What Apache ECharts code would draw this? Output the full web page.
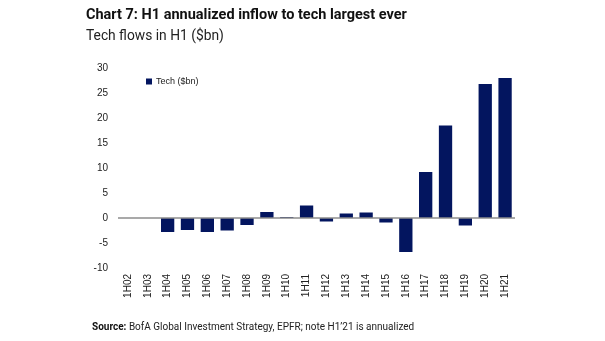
<!DOCTYPE html>
<html>
<head>
<meta charset="utf-8">
<script src="https://cdn.jsdelivr.net/npm/echarts@6/dist/echarts.min.js"></script>
<style>html,body{margin:0;padding:0;background:#fff}#c{width:605px;height:341px}</style>
</head>
<body>
<div id="c"></div>
<script>
const categories = ['1H02','1H03','1H04','1H05','1H06','1H07','1H08','1H09','1H10','1H11','1H12','1H13','1H14','1H15','1H16','1H17','1H18','1H19','1H20','1H21'];
const techFlows = [0, 0, -2.8, -2.4, -2.8, -2.5, -1.4, 1.2, 0.2, 2.5, -0.7, 0.9, 1.1, -0.9, -6.8, 9.2, 18.5, -1.5, 26.8, 28.0];
const seriesName = 'Tech ($bn)';

const TF = 'Roboto, sans-serif';
const chart = echarts.init(document.getElementById('c'));
chart.setOption({
  animation: false,
  title: [
    {
      text: 'Chart 7: H1 annualized inflow to tech largest ever',
      left: 86, top: 8, padding: 0,
      textStyle: {fontFamily: TF, fontWeight: 'bold', fontSize: 14.5, color: '#111'}
    },
    {
      text: 'Tech flows in H1 ($bn)',
      left: 86, top: 30, padding: 0,
      textStyle: {fontFamily: TF, fontWeight: 'normal', fontSize: 13.8, color: '#222'}
    },
    {
      text: '{b|Source:}{r| BofA Global Investment Strategy, EPFR; note H1\u201921 is annualized}',
      left: 92, top: 322, padding: 0,
      textStyle: {
        rich: {
          b: {fontFamily: TF, fontWeight: 'bold', fontSize: 10, color: '#111'},
          r: {fontFamily: TF, fontWeight: 'normal', fontSize: 10, color: '#222'}
        }
      }
    }
  ],
  legend: {
    left: 146, top: 77, padding: 0,
    itemWidth: 6, itemHeight: 6, itemGap: 4,
    icon: 'rect',
    textStyle: {fontFamily: 'Liberation Sans', fontSize: 9, color: '#222', padding: [0,0,0,-1]},
    data: [seriesName]
  },
  grid: {left: 118, right: 90, top: 68, bottom: 73},
  xAxis: {
    type: 'category',
    data: categories,
    axisLine: {show: false, onZero: false},
    axisTick: {show: false},
    axisLabel: {rotate: 90, margin: 6, fontFamily: 'Liberation Sans', fontSize: 10, color: '#222', interval: 0}
  },
  yAxis: {
    type: 'value',
    min: -10, max: 30, interval: 5,
    axisLine: {show: false},
    axisTick: {show: false},
    splitLine: {show: false},
    axisLabel: {fontFamily: 'Liberation Sans', fontSize: 10, color: '#222', margin: 10}
  },
  series: [{
    name: seriesName,
    type: 'bar',
    data: techFlows,
    barWidth: '67%',
    itemStyle: {color: '#03155f'},
    markLine: {
      silent: true,
      symbol: 'none',
      label: {show: false},
      lineStyle: {color: '#8c8c8c', width: 1.5, type: 'solid'},
      data: [{yAxis: 0}]
    }
  }]
});
</script>
</body>
</html>
